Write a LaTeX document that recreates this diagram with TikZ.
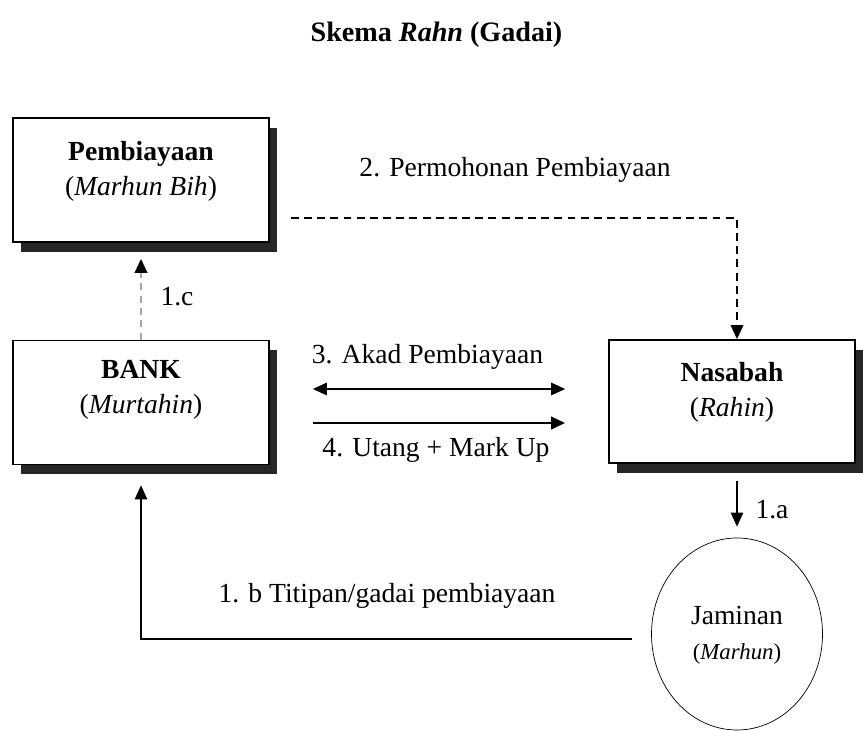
\documentclass[tikz,border=0pt]{standalone}
\usepackage{fontspec}
\setmainfont{Liberation Serif}
\usetikzlibrary{arrows.meta,shadows,calc,shapes.geometric}

\begin{document}
\begin{tikzpicture}[
  every node/.style={font=\fontsize{15.7}{20}\selectfont},
  box/.style={draw, line width=0.9pt, fill=white, minimum width=5.12cm, minimum height=2.48cm,
    drop shadow={shadow xshift=0.16cm, shadow yshift=-0.2cm, fill=black!85, opacity=1}},
  boxtext/.style={align=center},
  tip/.style={-{Triangle[length=8pt,width=7pt]}},
  flow/.style={tip, line width=1.6pt},
  dashline/.style={tip, line width=1.4pt, dash pattern=on 4.5pt off 3pt},
]
% Page size of the scheme
\useasboundingbox (0,0) rectangle (17.26,-14.62);

\node[font=\fontsize{16}{20}\selectfont\bfseries] (title) at (8.73,-0.70) {Skema \textit{Rahn} (Gadai)};

% Boxes and their texts
\node[box] (pemb) at (2.82,-3.60) {};
\node[boxtext] (pembtxt) at (2.82,-3.42) {\textbf{Pembiayaan}\\(\textit{Marhun Bih})};
\node[box] (bank) at (2.82,-8.05) {};
\node[boxtext] (banktxt) at (2.82,-7.80) {\textbf{BANK}\\(\textit{Murtahin})};
\node[box, minimum width=4.92cm, minimum height=2.46cm] (nasabah) at (14.64,-8.03) {};
\node[boxtext] (nasabahtxt) at (14.64,-7.84) {\textbf{Nasabah}\\(\textit{Rahin})};
\node[draw, ellipse, thin, minimum width=3.42cm, minimum height=3.84cm] (jaminan) at (14.74,-12.68) {};
\node[boxtext] (jamintxt) at (14.74,-12.70) {Jaminan\\{\fontsize{13}{16}\selectfont(\textit{Marhun})}};

% Labels of the steps
\node (lbl2) at (10.3,-3.40) {2. Permohonan Pembiayaan};
\node (lbl1c) at (3.54,-5.94) {1.c};
\node (lbl3) at (8.55,-7.14) {3. Akad Pembiayaan};
\node (lbl4) at (8.72,-9.00) {4. Utang + Mark Up};
\node (lbl1a) at (15.44,-10.20) {1.a};
\node (lbl1b) at (7.74,-11.92) {1. b Titipan/gadai pembiayaan};

% Arrows
\draw[dashline] ([xshift=0.42cm,yshift=-0.76cm]pemb.east) -| (jaminan.north |- nasabah.north);
\draw[-{Triangle[length=8pt,width=7pt,black]}, line width=1.5pt, gray!70, dash pattern=on 4pt off 3pt] (bank.north) -- ([yshift=-0.32cm]pemb.south);
\draw[{Triangle[length=8pt,width=7pt]}-{Triangle[length=8pt,width=7pt]}, line width=1.2pt] ($(bank.east)+(0.86,0.27)$) -- ($(bank.east -| nasabah.west)+(-0.86,0.27)$);
\draw[flow] ($(bank.east)+(0.86,-0.41)$) -- ($(bank.east -| nasabah.west)+(-0.86,-0.41)$);
\draw[tip, line width=0.9pt] ($(nasabah.south -| jaminan.north)+(0,-0.34)$) -- ([yshift=0.22cm]jaminan.north);
\draw[tip, line width=0.9pt] ($(jaminan.west)+(-0.38,-0.10)$) -| ([yshift=-0.40cm]bank.south);
\end{tikzpicture}
\end{document}
